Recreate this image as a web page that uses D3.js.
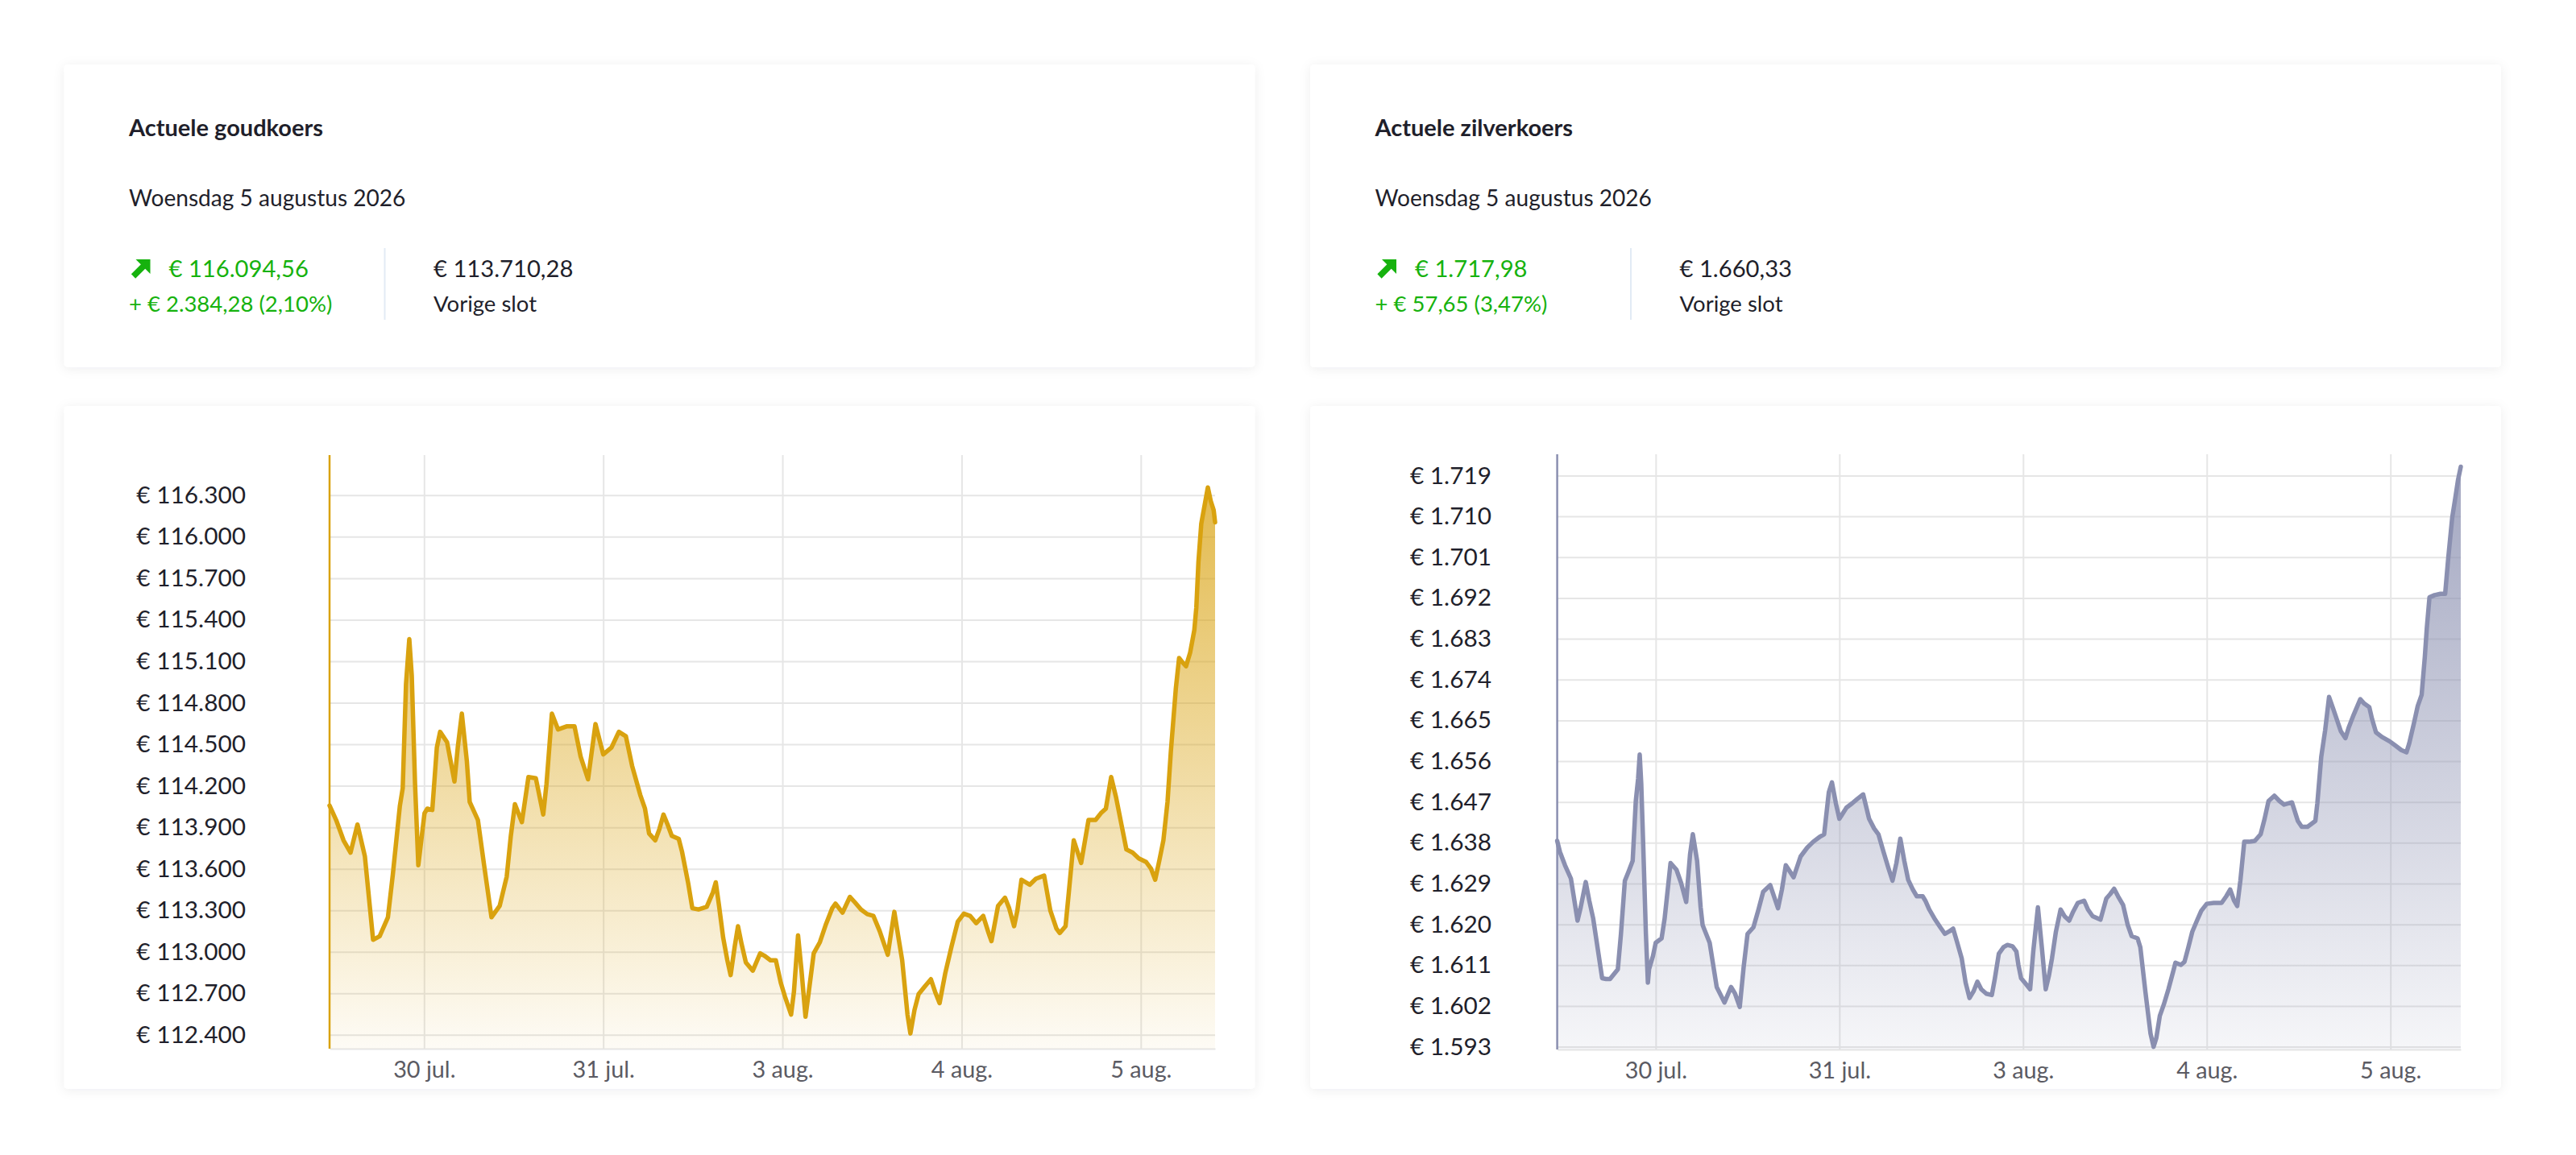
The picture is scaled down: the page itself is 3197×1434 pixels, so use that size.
<!DOCTYPE html>
<html>
<head>
<meta charset="utf-8">
<script src="https://cdn.jsdelivr.net/npm/d3@7"></script>
<style>
  html, body { margin: 0; padding: 0; background: #ffffff; }
  svg { display: block; font-family: Lato, "Noto Sans", sans-serif; }
</style>
</head>
<body>
<svg id="page" width="3197" height="1434"></svg>
<script>
// ---------- DATA ----------
// hours on a trading-time axis (weekend removed): 30 jul 00:00 = 0, 31 jul = 24, 3 aug = 48, 4 aug = 72, 5 aug = 96
const dateTickHours = [0, 24, 48, 72, 96];
const dateTickLabels = ["30 jul.", "31 jul.", "3 aug.", "4 aug.", "5 aug."];

const goldTickValues = [112400, 112700, 113000, 113300, 113600, 113900, 114200, 114500, 114800, 115100, 115400, 115700, 116000, 116300];
const silverTickValues = [1593, 1602, 1611, 1620, 1629, 1638, 1647, 1656, 1665, 1674, 1683, 1692, 1701, 1710, 1719];

const goldHours = [-12.66,-11.78,-10.79,-9.85,-8.92,-7.93,-6.83,-5.95,-4.84,-4.18,
  -3.25,-2.86,-2.42,-1.98,-1.65,-1.21,-0.77,0.06,0.44,1.10,
  1.71,2.15,3.08,4.07,4.51,5.06,5.73,6.11,7.21,8.04,
  9.03,10.13,11.07,11.62,12.17,13.10,13.98,14.97,15.96,16.40,
  17.12,17.95,19.16,20.15,20.97,21.96,22.96,24.00,25.10,26.09,
  27.03,27.86,28.96,29.59,30.14,30.97,31.52,32.07,32.62,33.18,
  34.11,34.55,35.38,35.93,36.76,37.86,38.69,39.07,39.51,40.06,
  40.62,41.06,41.61,42.05,42.54,43.10,44.03,45.02,45.58,46.40,
  47.12,47.78,48.33,49.16,49.54,50.09,50.54,51.09,51.53,52.19,
  53.02,53.84,54.67,55.11,56.05,57.04,57.70,58.53,59.35,60.18,
  61.01,62.11,62.55,62.99,63.49,64.04,64.75,65.14,65.69,66.24,
  67.07,67.89,68.45,69.05,69.82,70.65,71.48,72.30,73.13,73.96,
  74.89,75.61,76.00,76.88,77.81,78.37,79.03,79.47,80.02,81.12,
  81.95,83.05,83.88,84.70,85.14,85.92,86.36,87.02,88.01,89.00,
  89.94,90.66,91.32,92.03,92.69,93.41,94.07,94.90,95.73,96.72,
  97.38,97.93,98.48,99.03,99.58,100.02,100.69,101.13,101.51,102.06,
  102.61,103.17,103.44,103.72,104.10,104.54,104.98,105.37,105.76,105.95];

const goldValues = [114057,113953,113806,113717,113920,113691,113087,113113,113250,113561,
  114051,114182,114934,115260,114999,114214,113626,114002,114035,114025,
  114476,114590,114515,114231,114476,114721,114378,114084,113953,113626,
  113250,113332,113544,113838,114067,113937,114263,114254,113992,114214,
  114721,114607,114630,114630,114411,114247,114646,114427,114476,114590,
  114558,114345,114133,114035,113855,113806,113887,113992,113920,113838,
  113816,113724,113495,113315,113306,113325,113430,113502,113332,113103,
  112939,112832,113038,113185,113054,112923,112864,112989,112972,112939,
  112939,112776,112678,112547,112711,113119,112874,112531,112711,112989,
  113070,113201,113315,113348,113283,113397,113358,113306,113273,113260,
  113152,112979,113136,113289,113119,112939,112547,112410,112580,112694,
  112750,112802,112711,112629,112848,113038,113217,113276,113260,113207,
  113260,113136,113077,113332,113391,113315,113185,113299,113521,113485,
  113528,113551,113299,113168,113136,113185,113430,113806,113642,113953,
  113953,114002,114035,114263,114116,113920,113740,113717,113675,113649,
  113600,113521,113659,113806,114084,114443,114901,115123,115097,115064,
  115162,115326,115489,115816,116094,116225,116356,116258,116192,116104];

const silverHours = [-12.87,-12.51,-11.85,-11.08,-10.21,-9.80,-9.14,-8.68,-8.17,-7.00,
  -6.48,-5.97,-4.95,-4.54,-4.03,-3.52,-3.01,-2.60,-2.30,-2.09,
  -1.89,-1.63,-1.28,-1.02,-0.87,-0.36,0,0.77,1.17,1.94,
  2.71,3.32,3.98,4.49,4.85,5.41,5.87,6.13,7.05,7.97,
  8.99,9.85,10.37,10.98,11.49,12.00,12.77,13.43,14.04,14.96,
  15.98,16.49,17.00,18.02,18.94,19.81,20.58,21.50,22.01,22.62,
  23.03,23.54,24.00,24.92,25.68,26.35,27.11,27.88,28.54,29.10,
  29.77,30.38,30.94,31.45,31.96,32.48,32.99,33.60,34.11,34.88,
  35.23,35.75,36.41,37.18,37.79,38.30,38.86,39.32,39.98,40.49,
  41.00,41.52,42.03,42.54,43.20,43.92,44.32,44.83,45.45,45.96,
  46.62,47.13,47.39,47.74,48.31,48.92,49.33,49.94,50.45,50.96,
  51.37,51.78,52.29,52.90,53.41,54.03,54.54,55.15,55.97,56.48,
  57.09,58.11,58.88,59.39,59.90,60.41,61.07,61.68,62.19,62.96,
  63.32,63.98,64.65,65.05,65.41,65.87,66.38,66.99,67.61,67.91,
  68.63,69.09,69.60,70.11,70.72,71.28,72.00,72.92,73.94,74.55,
  75.06,75.57,75.98,76.39,76.90,77.51,78.28,79.04,79.56,80.07,
  80.83,81.50,82.11,83.13,83.90,84.41,85.17,86.19,86.45,86.96,
  87.47,87.98,88.49,89.51,90.12,90.53,91.20,92.06,92.58,93.24,
  93.60,94.11,94.87,95.89,96.66,97.42,98.09,98.45,99.06,99.57,
  100.08,100.49,100.75,101.10,101.77,102.53,103.15,103.56,104.07,104.48,
  104.83,105.19];

const silverValues = [1638.41,1635.97,1633.04,1630.11,1620.83,1623.76,1629.33,1625.23,1621.32,1608.13,
  1607.94,1607.94,1610.09,1617.90,1629.62,1631.77,1634.02,1647.21,1652.09,1657.46,
  1651.11,1637.44,1617.90,1607.16,1610.09,1613.02,1615.95,1616.92,1621.32,1633.53,
  1632.06,1629.13,1624.93,1635.48,1639.88,1634.02,1623.76,1619.85,1615.95,1606.18,
  1602.76,1606.18,1604.71,1601.78,1610.58,1617.90,1619.37,1623.27,1627.18,1628.65,
  1623.57,1627.67,1633.04,1630.40,1635.00,1636.95,1638.22,1639.39,1639.88,1649.16,
  1651.31,1646.72,1643.30,1645.74,1646.72,1647.69,1648.67,1643.30,1641.15,1639.88,
  1635.97,1632.55,1629.62,1633.53,1638.90,1634.02,1629.82,1627.67,1626.20,1626.20,
  1625.23,1623.27,1621.32,1619.37,1617.90,1618.39,1619.07,1616.44,1612.53,1607.16,
  1603.74,1605.20,1607.35,1605.69,1604.71,1604.42,1608.13,1613.51,1614.97,1615.46,
  1615.17,1613.99,1611.06,1608.13,1606.96,1605.69,1613.99,1623.76,1614.97,1605.69,
  1608.62,1612.53,1618.39,1623.27,1621.81,1620.83,1622.79,1624.74,1625.23,1623.27,
  1621.81,1621.03,1625.72,1626.69,1627.86,1626.20,1624.25,1619.85,1617.41,1616.92,
  1614.97,1605.20,1595.92,1592.99,1594.95,1599.83,1602.27,1605.69,1609.60,1611.55,
  1611.06,1611.75,1614.97,1618.39,1620.83,1622.98,1624.54,1624.74,1624.74,1626.20,
  1627.67,1625.23,1624.06,1629.62,1638.22,1638.22,1638.41,1639.88,1643.30,1647.21,
  1648.38,1647.21,1646.42,1646.91,1642.81,1641.54,1641.54,1642.81,1646.72,1656.97,
  1662.83,1670.16,1667.72,1662.64,1661.08,1663.32,1666.25,1669.67,1668.69,1667.91,
  1665.28,1662.35,1661.37,1660.39,1659.42,1658.44,1657.95,1659.90,1664.30,1668.21,
  1670.65,1678.95,1685.30,1692.14,1692.63,1692.92,1692.92,1700.93,1709.72,1714.12,
  1718.02,1720.95];

// info card texts
const goldInfo = { title: "Actuele goudkoers", date: "Woensdag 5 augustus 2026",
  price: "€ 116.094,56", change: "+ € 2.384,28 (2,10%)", prev: "€ 113.710,28", prevLabel: "Vorige slot" };
const silverInfo = { title: "Actuele zilverkoers", date: "Woensdag 5 augustus 2026",
  price: "€ 1.717,98", change: "+ € 57,65 (3,47%)", prev: "€ 1.660,33", prevLabel: "Vorige slot" };

// ---------- DRAWING ----------
const nl = d3.formatLocale({ decimal: ",", thousands: ".", grouping: [3], currency: ["€ ", ""] });
const fmtEuro = nl.format("$,.0f");

const svg = d3.select("#page");
const defs = svg.append("defs");
const shadow = defs.append("filter").attr("id", "shadow")
  .attr("x", "-5%").attr("y", "-10%").attr("width", "110%").attr("height", "120%");
shadow.append("feDropShadow").attr("dx", 0).attr("dy", 2).attr("stdDeviation", 7)
  .attr("flood-color", "#1a2440").attr("flood-opacity", 0.07);

const TEXT = "#1f1f2b";
const GREEN = "#16b20e";

function card(x, y, w, h) {
  svg.append("rect").attr("x", x).attr("y", y).attr("width", w).attr("height", h)
    .attr("rx", 5).attr("fill", "#fff").attr("filter", "url(#shadow)");
}

function infoCard(cx, info) {
  card(cx, 80, 1478, 376);
  const g = svg.append("g").attr("transform", `translate(${cx},0)`);
  g.append("text").attr("x", 80.5).attr("y", 169).attr("font-size", 29).attr("font-weight", 700)
    .attr("fill", TEXT).text(info.title);
  g.append("text").attr("x", 80.5).attr("y", 256).attr("font-size", 28.1)
    .attr("fill", TEXT).text(info.date);
  // arrow icon
  g.append("path")
    .attr("d", "M 86 343 L 101 328")
    .attr("stroke", GREEN).attr("stroke-width", 7.5).attr("fill", "none");
  g.append("path")
    .attr("d", "M 89 322 L 107 322 L 107 340 Z")
    .attr("fill", GREEN);
  g.append("text").attr("x", 130).attr("y", 343.5).attr("font-size", 29.2).attr("fill", GREEN).text(info.price);
  g.append("text").attr("x", 80.5).attr("y", 387).attr("font-size", 27.5).attr("fill", GREEN).text(info.change);
  g.append("line").attr("x1", 398).attr("x2", 398).attr("y1", 308).attr("y2", 397)
    .attr("stroke", "#e2ebf5").attr("stroke-width", 2);
  g.append("text").attr("x", 458.5).attr("y", 343.5).attr("font-size", 29.2).attr("fill", TEXT).text(info.prev);
  g.append("text").attr("x", 458.5).attr("y", 387).attr("font-size", 27.5).attr("fill", TEXT).text(info.prevLabel);
}

infoCard(79.5, goldInfo);
infoCard(1626, silverInfo);

function chartCard(cfg) {
  card(cfg.cardX, 504, 1478, 848);
  const top = cfg.top, bottom = cfg.bottom;
  const x = d3.scaleLinear().domain(cfg.xDomain).range([cfg.left, cfg.right]);
  const y = d3.scaleLinear().domain(cfg.yDomain).range([bottom, top]);
  const data = d3.zip(cfg.hours, cfg.values);

  const grad = defs.append("linearGradient").attr("id", cfg.id + "grad")
    .attr("gradientUnits", "userSpaceOnUse").attr("x1", 0).attr("x2", 0).attr("y1", top).attr("y2", bottom);
  grad.append("stop").attr("offset", 0).attr("stop-color", cfg.color).attr("stop-opacity", cfg.opTop);
  grad.append("stop").attr("offset", 1).attr("stop-color", cfg.color).attr("stop-opacity", cfg.opBottom);

  // horizontal grid + y labels
  const yAxis = d3.axisLeft(y).tickValues(cfg.ticks).tickFormat(fmtEuro)
    .tickSizeInner(-(cfg.right - cfg.left)).tickSizeOuter(0).tickPadding(cfg.left - cfg.labelRight);
  const ya = svg.append("g").attr("transform", `translate(${cfg.left},0)`).call(yAxis);
  ya.select(".domain").remove();
  ya.selectAll(".tick line").attr("stroke", "#e6e6e6").attr("stroke-width", 2);
  ya.selectAll(".tick text").attr("font-family", "Lato").attr("font-size", 29.8).attr("fill", TEXT);

  // vertical grid + x labels
  const xAxis = d3.axisBottom(x).tickValues(dateTickHours).tickFormat((d, i) => dateTickLabels[i])
    .tickSizeInner(-(bottom - top)).tickSizeOuter(0).tickPadding(16);
  const xa = svg.append("g").attr("transform", `translate(0,${bottom})`).call(xAxis);
  xa.select(".domain").attr("stroke", "#e6e6e6").attr("stroke-width", 2);
  xa.selectAll(".tick line").attr("stroke", "#e6e6e6").attr("stroke-width", 2);
  xa.selectAll(".tick text").attr("font-family", "Lato").attr("font-size", 28.8).attr("fill", "#5b5b63");

  const area = d3.area().x(d => x(d[0])).y0(bottom).y1(d => y(d[1]));
  const line = d3.line().x(d => x(d[0])).y(d => y(d[1]));
  svg.append("path").datum(data).attr("d", area).attr("fill", `url(#${cfg.id}grad)`);
  svg.append("path").datum(data).attr("d", line).attr("fill", "none")
    .attr("stroke", cfg.color).attr("stroke-width", 5.5).attr("stroke-linejoin", "round").attr("stroke-linecap", "round");

  // left axis line
  svg.append("line").attr("x1", cfg.left).attr("x2", cfg.left).attr("y1", top).attr("y2", bottom)
    .attr("stroke", cfg.color).attr("stroke-width", 2.5);
}

chartCard({ id: "gold", cardX: 79.5, left: 409, right: 1508, top: 565, bottom: 1302, labelRight: 305,
  xDomain: [-12.66, 105.95], yDomain: [112300, 116590], ticks: goldTickValues,
  hours: goldHours, values: goldValues, color: "#d9a20f", opTop: 0.78, opBottom: 0.04 });

chartCard({ id: "silver", cardX: 1626, left: 1932.6, right: 3054, top: 564, bottom: 1303, labelRight: 1851,
  xDomain: [-12.87, 105.19], yDomain: [1592.4, 1723.7], ticks: silverTickValues,
  hours: silverHours, values: silverValues, color: "#8a8fb0", opTop: 0.8, opBottom: 0.08 });
</script>
</body>
</html>
